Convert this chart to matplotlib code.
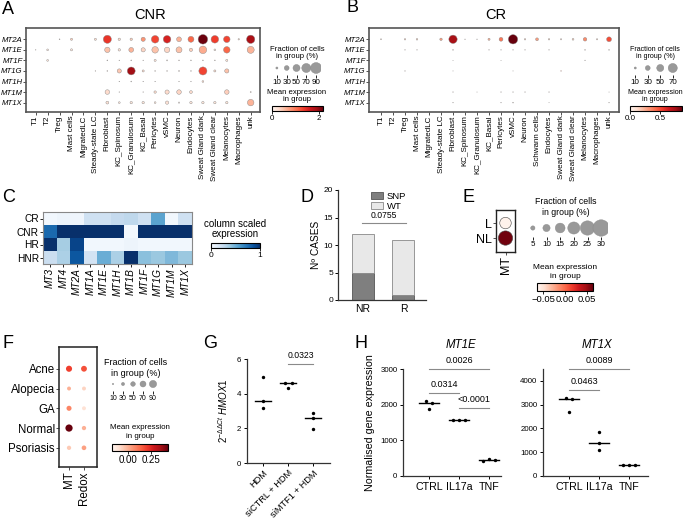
import numpy as np
import matplotlib
matplotlib.use('Agg')
import matplotlib.pyplot as plt
from matplotlib import colors
from matplotlib.colorbar import ColorbarBase
from matplotlib.patches import Patch

plt.rcParams['font.family'] = ['Liberation Sans', 'DejaVu Sans']
plt.rcParams['mathtext.fontset'] = 'custom'
plt.rcParams['mathtext.rm'] = 'Liberation Sans'
plt.rcParams['mathtext.it'] = 'Liberation Sans:italic'

# ---------------- data ----------------
A_genes = ['MT2A', 'MT1E', 'MT1F', 'MT1G', 'MT1H', 'MT1M', 'MT1X']
A_cells = ['T1', 'T2', 'Treg', 'Mast cells', 'MigratedLC', 'Steady-state LC', 'Fibroblast',
           'KC_Spinosum', 'KC_Granulosum', 'KC_Basal', 'Pericytes', 'vSMC', 'Neuron',
           'Endocytes', 'Sweat Gland dark', 'Sweat Gland clear', 'Melanocytes', 'Macrophages', 'unk']
A_frac = [
    [0, 0, 3, 10, 0, 10, 60, 12, 12, 25, 55, 55, 30, 40, 75, 55, 45, 6, 62],
    [2, 8, 0, 10, 0, 0, 35, 12, 30, 25, 45, 35, 40, 18, 55, 8, 45, 0, 50],
    [0, 8, 0, 0, 0, 0, 3, 2, 3, 2, 10, 4, 3, 3, 3, 3, 10, 0, 0],
    [0, 0, 0, 0, 0, 2, 3, 25, 58, 10, 3, 3, 4, 3, 60, 10, 25, 0, 0],
    [0, 0, 0, 0, 0, 0, 0, 2, 3, 2, 2, 0, 2, 2, 8, 0, 0, 0, 0],
    [0, 0, 0, 0, 0, 0, 28, 2, 0, 2, 12, 25, 28, 15, 0, 0, 28, 0, 4],
    [0, 0, 0, 0, 0, 0, 15, 8, 12, 12, 8, 18, 5, 12, 12, 12, 12, 0, 45],
]
A_mean = [
    [0, 0, 0.2, 0.4, 0, 0.3, 1.4, 0.3, 0.4, 0.8, 1.3, 1.55, 0.6, 1.1, 2.15, 1.35, 1.3, 0.3, 1.85],
    [0.1, 0.2, 0, 0.2, 0, 0, 0.5, 0.2, 0.6, 0.35, 0.5, 0.35, 0.5, 0.4, 0.65, 0.2, 1.1, 0, 0.6],
    [0, 0.2, 0, 0, 0, 0, 0.1, 0.1, 0.1, 0.1, 0.2, 0.1, 0.1, 0.1, 0.1, 0.1, 0.2, 0, 0],
    [0, 0, 0, 0, 0, 0.3, 0.1, 0.45, 1.9, 0.3, 0.1, 0.1, 0.1, 0.1, 1.3, 0.3, 0.5, 0, 0],
    [0, 0, 0, 0, 0, 0, 0, 0.1, 0.1, 0.1, 0.1, 0, 0.1, 0.1, 0.3, 0, 0, 0, 0],
    [0, 0, 0, 0, 0, 0, 0.3, 0.1, 0, 0.1, 0.3, 0.3, 0.35, 0.3, 0, 0, 0.4, 0, 0.2],
    [0, 0, 0, 0, 0, 0, 0.25, 0.2, 0.2, 0.2, 0.2, 0.25, 0.1, 0.2, 0.2, 0.2, 0.2, 0, 0.6],
]
A_size_legend = [10, 30, 50, 70, 90]

B_cells = ['T1', 'T2', 'Treg', 'Mast cells', 'MigratedLC', 'Steady-state LC', 'Fibroblast',
           'KC_Spinosum', 'KC_Granulosum', 'KC_Basal', 'Pericytes', 'vSMC', 'Neuron',
           'Schwann cells', 'Endocytes', 'Sweat Gland dark', 'Sweat Gland clear',
           'Melanocytes', 'Macrophages', 'unk']
B_frac = [
    [4, 0, 6, 7, 0, 12, 62, 2, 2, 10, 22, 72, 6, 15, 6, 5, 8, 20, 5, 30],
    [0, 0, 2, 2, 0, 0, 3, 0, 0, 2, 2, 2, 2, 0, 2, 0, 0, 3, 0, 3],
    [0, 0, 0, 0, 0, 0, 1, 0, 0, 0, 1, 0, 0, 0, 0, 0, 0, 2, 0, 0],
    [0, 0, 2, 0, 0, 0, 1, 0, 0, 0, 0, 1, 0, 0, 0, 2, 0, 0, 0, 0],
    [0, 0, 0, 0, 0, 0, 0, 0, 0, 0, 0, 0, 0, 0, 0, 0, 0, 0, 0, 0],
    [0, 0, 0, 0, 0, 0, 2, 0, 1, 0, 2, 2, 2, 0, 2, 0, 0, 0, 0, 1],
    [0, 0, 0, 0, 0, 0, 2, 0, 0, 0, 2, 3, 0, 0, 1, 0, 0, 0, 0, 2],
]
B_mean = [
    [0.1, 0, 0.15, 0.15, 0, 0.3, 0.75, 0.05, 0.05, 0.25, 0.4, 0.88, 0.15, 0.3, 0.15, 0.12, 0.15, 0.35, 0.15, 0.5],
    [0, 0, 0.05, 0.05, 0, 0, 0.05, 0, 0, 0.05, 0.05, 0.05, 0.05, 0, 0.05, 0, 0, 0.05, 0, 0.05],
    [0, 0, 0, 0, 0, 0, 0.05, 0, 0, 0, 0.05, 0, 0, 0, 0, 0, 0, 0.05, 0, 0],
    [0, 0, 0.05, 0, 0, 0, 0.05, 0, 0, 0, 0, 0.05, 0, 0, 0, 0.4, 0, 0, 0, 0],
    [0, 0, 0, 0, 0, 0, 0, 0, 0, 0, 0, 0, 0, 0, 0, 0, 0, 0, 0, 0],
    [0, 0, 0, 0, 0, 0, 0.05, 0, 0.05, 0, 0.05, 0.05, 0.05, 0, 0.05, 0, 0, 0, 0, 0.05],
    [0, 0, 0, 0, 0, 0, 0.05, 0, 0, 0, 0.05, 0.05, 0, 0, 0.05, 0, 0, 0, 0, 0.05],
]
B_size_legend = [10, 30, 50, 70]

C_rows = ['CR', 'CNR', 'HR', 'HNR']
C_cols = ['MT3', 'MT4', 'MT2A', 'MT1A', 'MT1E', 'MT1H', 'MT1B', 'MT1F', 'MT1G', 'MT1M', 'MT1X']
C_vals = [
    [0.03, 0.05, 0.04, 0.2, 0.2, 0.25, 0.27, 0.2, 0.55, 0.03, 0.2],
    [0.78, 1, 1, 1, 1, 1, 0.02, 1, 1, 1, 1],
    [1, 0.35, 0.92, 0.03, 0.03, 0.03, 0.05, 0.03, 0.03, 0.03, 0.03],
    [0.22, 0.33, 0.85, 0.18, 0.5, 0.33, 1, 0.42, 0.38, 0.45, 0.38],
]

D_groups = ['NR', 'R']
D_snp = [5, 1]
D_wt = [7, 10]
D_p = '0.0755'

E_rows = ['L', 'NL']
E_frac = [18.6, 24.9]
E_mean = [-0.062, 0.062]
E_size_legend = [5, 10, 15, 20, 25, 30]

F_rows = ['Acne', 'Alopecia', 'GA', 'Normal', 'Psoriasis']
F_cols = ['MT', 'Redox']
F_frac = [[72, 68], [40, 40], [56, 40], [90, 45], [45, 50]]
F_mean = [[0.2, 0.17], [0.0, -0.07], [0.08, -0.1], [0.43, 0.0], [-0.05, 0.03]]
F_size_legend = [10, 30, 50, 70, 90]

G_groups = ['HDM', 'siCTRL + HDM', 'siMTF1 + HDM']
G_vals = [[4.95, 3.55, 3.2], [4.6, 4.3, 4.62], [2.9, 2.58, 1.95]]
G_sig = [(1, 2, 5.71, '0.0323')]

H_groups = ['CTRL', 'IL17a', 'TNF']
H1E_vals = [[2100, 1880, 2060], [1560, 1560, 1570], [430, 470, 450]]
H1X_vals = [[3280, 2700, 3240], [1870, 1400, 1100], [450, 450, 460]]
H1E_sig = [(0, 2, 3000, '0.0026'), (0, 1, 2320, '0.0314'), (1, 2, 1900, '<0.0001')]
H1X_sig = [(0, 2, 4500, '0.0089'), (0, 1, 3620, '0.0463')]

# ---------------- helpers ----------------
W, H = 683, 523
fig = plt.figure(figsize=(W / 100, H / 100), dpi=100)


def pax(x0, y0, x1, y1):
    return fig.add_axes([x0 / W, 1 - y1 / H, (x1 - x0) / W, (y1 - y0) / H])


def ftext(x, y, s, **kw):
    fig.text(x / W, 1 - y / H, s, **kw)


def sizes(f, smax, fmax):
    return smax * (np.asarray(f, float) / fmax) ** 1.5


def dotplot(ax, frac, mean, xl, yl, cmap, norm, smax, fmax, xlim, ylim, xfs, yfs,
            xrot=90, frame='#555', flw=1.2, ec='#888', elw=0.3, yital=True, pad=1):
    frac = np.asarray(frac, float)
    mean = np.asarray(mean, float)
    yy, xx = np.nonzero(frac > 0)
    ax.scatter(xx, yy, s=sizes(frac[yy, xx], smax, fmax), c=mean[yy, xx], cmap=cmap,
               norm=norm, edgecolors=ec, linewidths=elw, zorder=3)
    ax.set_xlim(*xlim)
    ax.set_ylim(*ylim)
    ax.set_xticks(range(len(xl)))
    ax.set_xticklabels(xl, rotation=xrot, fontsize=xfs)
    ax.set_yticks(range(len(yl)))
    ax.set_yticklabels(yl, fontsize=yfs, style='italic' if yital else 'normal')
    ax.tick_params(length=2, width=0.6, pad=pad, color='#333')
    for sp in ax.spines.values():
        sp.set_color(frame)
        sp.set_linewidth(flw)


def size_legend(box, vals, smax, fmax, fs):
    ax = pax(*box)
    ax.scatter(range(len(vals)), [0] * len(vals), s=sizes(vals, smax, fmax),
               c='#999999', edgecolors='#888', linewidths=0.3)
    ax.set_xlim(-0.5, len(vals) - 0.5)
    ax.set_ylim(-1, 1)
    for sp in ax.spines.values():
        sp.set_visible(False)
    ax.set_yticks([])
    ax.set_xticks(range(len(vals)))
    ax.set_xticklabels([str(v) for v in vals], fontsize=fs)
    ax.tick_params(axis='x', length=2, width=0.6, pad=1)
    ax.patch.set_alpha(0)


def cbar(box, cmap, vmin, vmax, ticks, labels, fs):
    cax = pax(*box)
    cb = ColorbarBase(cax, cmap=plt.get_cmap(cmap), norm=colors.Normalize(vmin, vmax),
                      orientation='horizontal')
    cb.set_ticks(ticks)
    cb.set_ticklabels(labels)
    cax.tick_params(labelsize=fs, length=2, width=0.6, pad=1)
    cb.outline.set_linewidth(0.8)


def cluster_offsets(vals, tol, step):
    vals = list(vals)
    n = len(vals)
    group = [-1] * n
    g = 0
    for i in range(n):
        if group[i] >= 0:
            continue
        group[i] = g
        for j in range(i + 1, n):
            if group[j] < 0 and abs(vals[j] - vals[i]) < tol:
                group[j] = g
        g += 1
    offs = [0.0] * n
    for k in range(g):
        idx = [i for i in range(n) if group[i] == k]
        m = len(idx)
        for r, i in enumerate(idx):
            offs[i] = (r - (m - 1) / 2) * step
    return offs


def scatter_panel(ax, vals, tol, step, half):
    for i, v in enumerate(vals):
        offs = cluster_offsets(v, tol, step)
        ax.scatter(np.array(offs) + i, v, s=6, c='black', zorder=3, linewidths=0)
        ax.plot([i - half, i + half], [np.median(v)] * 2, color='black', lw=1.0, zorder=2)


def sig_bars(ax, sigs, fs):
    for a, b, y, t in sigs:
        ax.plot([a, b], [y, y], color='#8a8a8a', lw=0.8, clip_on=False)
        ax.annotate(t, ((a + b) / 2, y), xytext=(0, 3), textcoords='offset points',
                    ha='center', va='bottom', fontsize=fs, annotation_clip=False)


def clean(ax):
    ax.spines['top'].set_visible(False)
    ax.spines['right'].set_visible(False)
    for s in ('left', 'bottom'):
        ax.spines[s].set_linewidth(0.9)
        ax.spines[s].set_color('#333')


# ---------------- panel labels ----------------
for lab, x, y in [('A', 2, 10), ('B', 346, 8), ('C', 2, 198), ('D', 300, 198), ('E', 463, 198),
                  ('F', 2, 343), ('G', 203, 343), ('H', 355, 343)]:
    ftext(x, y, lab, fontsize=13, va='center', ha='left')

# ---------------- A ----------------
SA = 62
axA = pax(26, 28, 260, 112)
dotplot(axA, A_frac, A_mean, A_cells, A_genes, 'Reds', colors.Normalize(0, 2.17),
        SA, 90, (-0.81, 18.78), (6.89, -1.07), 5.8, 5.6, pad=0.5)
ftext(150, 15, 'CNR', fontsize=10.5, ha='center', va='center')
ftext(297, 53, 'Fraction of cells\nin group (%)', fontsize=5.6, ha='center', va='center',
      linespacing=1.1)
size_legend((272, 61, 321, 75), A_size_legend, SA, 90, 5.8)
ftext(297, 96, 'Mean expression\nin group', fontsize=5.6, ha='center', va='center', linespacing=1.1)
cbar((272, 106, 323, 111), 'Reds', 0, 2.17, [0, 2], ['0', '2'], 5.8)

# ---------------- B ----------------
SB = 43
axB = pax(369, 28, 619, 112)
dotplot(axB, B_frac, B_mean, B_cells, A_genes, 'Reds', colors.Normalize(0, 0.87),
        SB, 70, (-1.0, 19.83), (6.89, -1.07), 5.8, 5.6, pad=0.5)
ftext(496, 15, 'CR', fontsize=10.5, ha='center', va='center')
ftext(655, 53, 'Fraction of cells\nin group (%)', fontsize=5.1, ha='center', va='center',
      linespacing=1.1)
size_legend((629, 61, 679, 75), B_size_legend, SB, 70, 5.8)
ftext(655, 96, 'Mean expression\nin group', fontsize=5.1, ha='center', va='center', linespacing=1.1)
cbar((630, 106, 682, 111), 'Reds', 0, 0.87, [0, 0.5], ['0.0', '0.5'], 5.8)

# ---------------- C ----------------
axC = pax(43, 212, 192, 264)
axC.imshow(np.array(C_vals), cmap='Blues', vmin=0, vmax=1, aspect='auto', interpolation='nearest')
axC.set_xticks(range(len(C_cols)))
axC.set_xticklabels(C_cols, rotation=90, style='italic', fontsize=7.3)
axC.set_yticks(range(len(C_rows)))
axC.set_yticklabels(C_rows, fontsize=7.3)
axC.tick_params(length=2, width=0.6, pad=1)
for sp in axC.spines.values():
    sp.set_color('#888')
    sp.set_linewidth(0.8)
ftext(235, 229, 'column scaled\nexpression', fontsize=7, ha='center', va='center', linespacing=1.1)
cbar((211, 243, 260, 248), 'Blues', 0, 1, [0, 1], ['0', '1'], 6)

# ---------------- D ----------------
axD = pax(338, 190, 426, 300)
xD = np.arange(len(D_groups))
axD.bar(xD, D_snp, width=0.54, color='#7f7f7f', edgecolor='#555', linewidth=0.6, label='SNP')
axD.bar(xD, D_wt, bottom=D_snp, width=0.54, color='#e8e8e8', edgecolor='#888', linewidth=0.6,
        label='WT')
axD.set_xlim(-0.62, 1.56)
axD.set_ylim(0, 20)
axD.set_yticks([0, 5, 10, 15, 20])
axD.set_xticks(xD)
axD.set_xticklabels(D_groups, fontsize=7.5)
axD.tick_params(axis='y', labelsize=6, length=2.5, width=0.7, pad=1)
axD.tick_params(axis='x', length=0, pad=3)
axD.set_ylabel('Nº CASES', fontsize=7.3, labelpad=2)
clean(axD)
axD.plot([-0.02, 1.06], [14, 14], color='#8a8a8a', lw=0.8)
axD.text(0.52, 14.6, D_p, ha='center', va='bottom', fontsize=6.2)
axD.legend(handles=[Patch(facecolor='#7f7f7f', edgecolor='#555', lw=0.6, label='SNP'),
                    Patch(facecolor='#e8e8e8', edgecolor='#888', lw=0.6, label='WT')],
           loc='upper left', bbox_to_anchor=(366 / W, 1 - 187 / H), bbox_transform=fig.transFigure,
           frameon=False, fontsize=6.8, handlelength=1.3, handleheight=0.8, labelspacing=0.15,
           borderpad=0, handletextpad=0.4)

# ---------------- E ----------------
SE = 140
axE = pax(496, 210, 515, 252)
dotplot(axE, np.array(E_frac)[:, None], np.array(E_mean)[:, None], ['MT'], E_rows, 'Reds',
        colors.Normalize(-0.065, 0.065), SE, 30, (-0.5, 0.5), (1.93, -0.87), 9, 9,
        frame='#222', flw=1.0, ec='#444', elw=0.4, yital=False)
ftext(566, 207, 'Fraction of cells\nin group (%)', fontsize=6.3, ha='center', va='center',
      linespacing=1.3)
size_legend((526, 219, 608, 237), E_size_legend, SE, 30, 5.8)
ftext(565, 272, 'Mean expression\nin group', fontsize=6, ha='center', va='center', linespacing=1.3)
cbar((537, 283, 593, 291), 'Reds', -0.065, 0.065, [-0.05, 0, 0.05], ['−0.05', '0.00', '0.05'], 6.8)

# ---------------- F ----------------
SF = 27
axF = pax(59, 347, 97, 467)
dotplot(axF, F_frac, F_mean, F_cols, F_rows, 'Reds', colors.Normalize(-0.17, 0.43),
        SF, 90, (-0.67, 1.87), (4.97, -1.1), 8.3, 8.3, frame='#222', flw=1.1, ec='none',
        elw=0, yital=False)
ftext(136, 368, 'Fraction of cells\nin group (%)', fontsize=6.5, ha='center', va='center',
      linespacing=1.2)
size_legend((108, 377, 158, 391), F_size_legend, SF, 90, 5)
ftext(140, 432, 'Mean expression\nin group', fontsize=5.7, ha='center', va='center', linespacing=1.3)
cbar((112, 444, 168, 451), 'Reds', -0.17, 0.43, [0, 0.25], ['0.00', '0.25'], 7)

# ---------------- G ----------------
axG = pax(247, 359, 330, 463)
scatter_panel(axG, G_vals, 0.25, 0.28, 0.32)
axG.set_xlim(-0.64, 2.68)
axG.set_ylim(0, 6)
axG.set_yticks([0, 2, 4, 6])
axG.set_xticks(range(len(G_groups)))
axG.set_xticklabels(G_groups, rotation=45, ha='right', rotation_mode='anchor', fontsize=6.7)
axG.tick_params(length=2.5, width=0.7, pad=1.5)
axG.tick_params(axis='y', labelsize=5.7)
clean(axG)
axG.set_ylabel(r'$2^{-\Delta\Delta Ct}$ $\it{HMOX1}$', fontsize=7, labelpad=5)
sig_bars(axG, G_sig, 6.2)

# ---------------- H ----------------
axH1 = pax(403, 369, 501, 476)
scatter_panel(axH1, H1E_vals, 150, 0.19, 0.33)
axH1.set_xlim(-0.87, 2.4)
axH1.set_ylim(0, 3000)
axH1.set_yticks([0, 1000, 2000, 3000])
axH1.set_xticks(range(3))
axH1.set_xticklabels(H_groups, fontsize=7.7)
axH1.tick_params(length=2.5, width=0.7, pad=1.5)
axH1.tick_params(axis='y', labelsize=5.7)
clean(axH1)
axH1.set_ylabel('Normalised gene expression', fontsize=7.7, labelpad=4)
sig_bars(axH1, H1E_sig, 6.5)
ftext(461, 345, 'MT1E', fontsize=8.3, style='italic', ha='center', va='center')

axH2 = pax(543, 369, 648, 476)
scatter_panel(axH2, H1X_vals, 225, 0.19, 0.33)
axH2.set_xlim(-0.87, 2.63)
axH2.set_ylim(0, 4500)
axH2.set_yticks([0, 1000, 2000, 3000, 4000])
axH2.set_xticks(range(3))
axH2.set_xticklabels(H_groups, fontsize=7.7)
axH2.tick_params(length=2.5, width=0.7, pad=1.5)
axH2.tick_params(axis='y', labelsize=5.7)
clean(axH2)
sig_bars(axH2, H1X_sig, 6.5)
ftext(597, 345, 'MT1X', fontsize=8.3, style='italic', ha='center', va='center')

fig.savefig('out.png', dpi=100)
